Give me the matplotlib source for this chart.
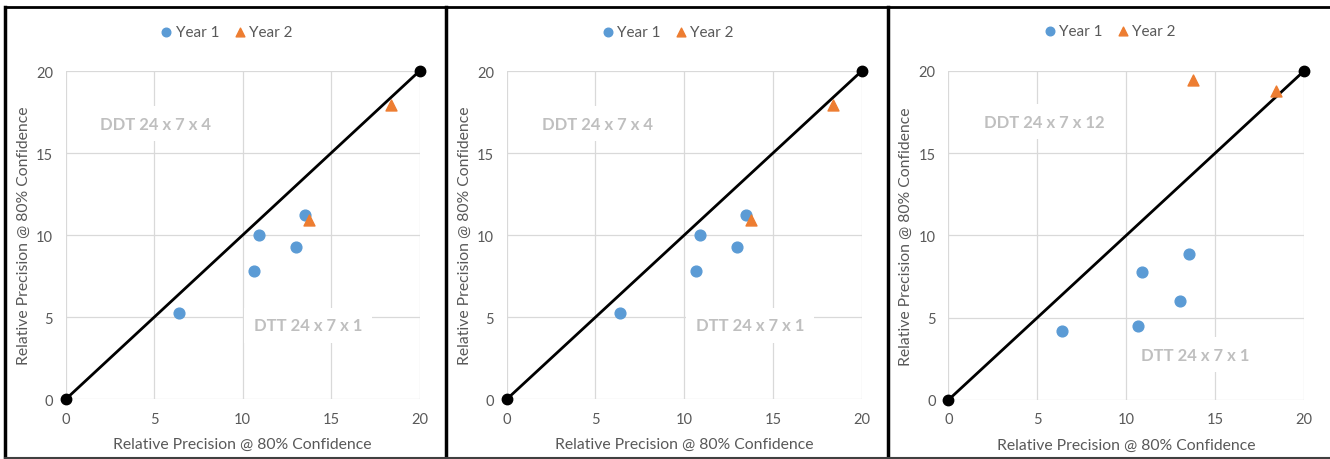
import matplotlib
matplotlib.use("Agg")
import matplotlib.pyplot as plt
from matplotlib.lines import Line2D

plt.rcParams["font.family"] = ["Lato", "DejaVu Sans"]

# -->> Data <<--------------------------

year1_x = [6.4, 10.9, 10.65, 13.0, 13.5]
year1_y_a = [5.25, 10.0, 7.8, 9.3, 11.25]
year1_y_c = [4.2, 7.75, 4.5, 6.0, 8.85]

year2_x = [13.75, 18.4]
year2_y_a = [10.9, 17.95]
year2_y_c = [19.45, 18.75]

diag_x = [0, 20]
diag_y = [0, 20]

panels = [
    {"y1": year1_y_a, "y2": year2_y_a,
     "upper": ("DDT 24 x 7 x 4", 5.1, 16.8), "lower": ("DTT 24 x 7 x 1", 13.7, 4.5)},
    {"y1": year1_y_a, "y2": year2_y_a,
     "upper": ("DDT 24 x 7 x 4", 5.1, 16.8), "lower": ("DTT 24 x 7 x 1", 13.7, 4.5)},
    {"y1": year1_y_c, "y2": year2_y_c,
     "upper": ("DDT 24 x 7 x 12", 5.4, 16.9), "lower": ("DTT 24 x 7 x 1", 13.85, 2.75)},
]

ticks = [0, 5, 10, 15, 20]
axis_label = "Relative Precision @ 80% Confidence"

BLUE = "#5B9BD5"
ORANGE = "#ED7D31"
GREY_TXT = "#595959"
GRID = "#D9D9D9"
NOTE = "#BFBFBF"

# -->> Figure <<------------------------

W, H = 1330, 460
fig = plt.figure(figsize=(W / 100, H / 100), dpi=100)

# axes rectangles in pixels: left, right, top, bottom
rects = [
    (65.7, 419.5, 72.0, 400.3),
    (506.7, 861.7, 72.0, 400.3),
    (948.3, 1304.3, 71.7, 401.0),
]

for p, (l, r, t, b) in zip(panels, rects):
    ax = fig.add_axes([l / W, (H - b) / H, (r - l) / W, (b - t) / H])
    ax.set_xlim(0, 20)
    ax.set_ylim(0, 20)
    ax.set_xticks(ticks)
    ax.set_yticks(ticks)
    ax.grid(True, color=GRID, linewidth=0.9)
    ax.set_axisbelow(True)
    for s in ax.spines.values():
        s.set_visible(False)
    ax.tick_params(length=0, labelsize=10.5, labelcolor=GREY_TXT, pad=9)

    ax.plot(diag_x, diag_y, color="black", linewidth=2, marker="o",
            markersize=7.5, clip_on=False, zorder=3)
    ax.scatter(year1_x, p["y1"], s=60, color=BLUE, label="Year 1", zorder=4)
    ax.scatter(year2_x, p["y2"], s=62, color=ORANGE, marker="^",
               label="Year 2", zorder=4)

    for txt, tx, ty in (p["upper"], p["lower"]):
        ax.text(tx, ty, txt, ha="center", va="center", fontsize=12,
                fontweight="bold", color=NOTE, zorder=2,
                bbox=dict(facecolor="white", edgecolor="none", pad=7))

    ax.set_xlabel(axis_label, fontsize=11.3, color=GREY_TXT, labelpad=8)
    ax.set_ylabel(axis_label, fontsize=11.3, color=GREY_TXT, labelpad=4)

    ax.legend(loc="center", bbox_to_anchor=(0.455, 1.12), ncol=2,
              frameon=False, fontsize=11, labelcolor=GREY_TXT,
              handlelength=0.7, handletextpad=0.25, columnspacing=1.0,
              markerscale=0.8, borderaxespad=0)

# panel frames
frame = dict(color="black", transform=fig.transFigure)
fig.add_artist(Line2D([5 / W, 1], [1 - 7.5 / H] * 2, linewidth=2, **frame))
fig.add_artist(Line2D([5.5 / W] * 2, [1 - 7.5 / H, 1 - 458.5 / H], linewidth=2.5, **frame))
fig.add_artist(Line2D([446 / W] * 2, [1 - 7.5 / H, 1 - 458.5 / H], linewidth=2.5, **frame))
fig.add_artist(Line2D([888 / W] * 2, [1 - 7.5 / H, 1 - 458.5 / H], linewidth=2.5, **frame))
fig.add_artist(Line2D([5 / W, 1], [1 - 458.5 / H] * 2, linewidth=1.5,
                      color="#404040", transform=fig.transFigure))

fig.savefig("out.png", dpi=100)
